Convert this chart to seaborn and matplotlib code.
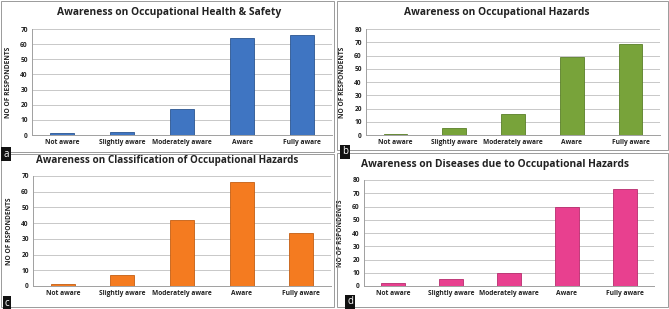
import numpy as np
import pandas as pd
import matplotlib
matplotlib.use("Agg")
import matplotlib.pyplot as plt
import seaborn as sns
from matplotlib.patches import Rectangle

categories = ["Not aware", "Slightly aware", "Moderately aware", "Aware", "Fully aware"]

health_safety = [1, 2, 17, 64, 66]
hazards = [1, 5, 16, 59, 69]
classification = [1, 7, 42, 66, 34]
diseases = [2, 5, 10, 60, 73]

titles = [
    "Awareness on Occupational Health & Safety",
    "Awareness on Occupational Hazards",
    "Awareness on Classification of Occupational Hazards",
    "Awareness on Diseases due to Occupational Hazards",
]
ylabels = ["NO OF RESPONDENTS", "NO OF RESPONDENTS", "NO OF RSPONDENTS", "NO OF RSPONDENTS"]
panel_letters = ["a", "b", "c", "d"]
colors = ["#3f75c2", "#78a33a", "#f47b20", "#e8408f"]
edges = ["#2b5590", "#5a7f28", "#c45e12", "#b82c6e"]
ymax = [70, 80, 70, 80]

W, H = 669, 309
sns.set_style("white")
plt.rcParams["font.family"] = ["Open Sans", "DejaVu Sans"]

fig = plt.figure(figsize=(W / 100, H / 100), dpi=100)

# axes boxes in pixels: left, top, right, bottom
boxes = [(32, 29, 332, 135), (366, 29, 660, 135), (33, 176, 331, 286), (364, 180, 654, 286)]
# panel frames in pixels
frames = [(1, 1, 334, 152), (337, 1, 668, 150), (1, 154, 334, 307), (337, 153, 668, 307)]
# title centre and panel letter position
title_pos = [(169, 13), (497, 13), (167, 161), (495, 164)]
title_size = [7.4, 7.4, 7.1, 7.4]
letter_pos = [(6, 154), (345, 152), (7, 303), (350, 302)]

for fx0, fy0, fx1, fy1 in frames:
    fig.patches.append(Rectangle((fx0 / W, 1 - fy1 / H), (fx1 - fx0) / W, (fy1 - fy0) / H,
                                 transform=fig.transFigure, fill=False,
                                 edgecolor="#9a9a9a", linewidth=0.7))

data_sets = [health_safety, hazards, classification, diseases]
for i, vals in enumerate(data_sets):
    l, t, r, b = boxes[i]
    ax = fig.add_axes([l / W, 1 - b / H, (r - l) / W, (b - t) / H])
    df = pd.DataFrame({"cat": categories, "n": vals})
    sns.barplot(data=df, x="cat", y="n", color=colors[i], width=0.4, saturation=1,
                edgecolor=edges[i], linewidth=0.6, ax=ax, zorder=3)
    ax.set_ylim(0, ymax[i])
    ax.set_yticks(np.arange(0, ymax[i] + 1, 10))
    ax.yaxis.grid(True, color="#c8c8c8", linewidth=0.7, zorder=0)
    ax.set_axisbelow(True)
    for s in ["top", "right"]:
        ax.spines[s].set_visible(False)
    for s in ["left", "bottom"]:
        ax.spines[s].set_color("#a0a0a0")
        ax.spines[s].set_linewidth(0.7)
    ax.tick_params(axis="both", labelsize=4.8, length=0, pad=3)
    for lab in ax.get_xticklabels() + ax.get_yticklabels():
        lab.set_fontweight("bold")
        lab.set_color("#222222")
    ax.set_xlabel("")
    ax.set_ylabel(ylabels[i], fontsize=4.8, fontweight="bold", labelpad=6, color="#222222")
    tx, ty = title_pos[i]
    fig.text(tx / W, 1 - ty / H, titles[i], ha="center", va="center",
             fontsize=title_size[i], fontweight="bold", color="#222222")
    lx, ly = letter_pos[i]
    fig.text(lx / W, 1 - ly / H, panel_letters[i], ha="center", va="center", fontsize=7,
             color="white", bbox=dict(boxstyle="square,pad=0.2", facecolor="#111111", edgecolor="none"))

fig.savefig("out.png", dpi=100)
